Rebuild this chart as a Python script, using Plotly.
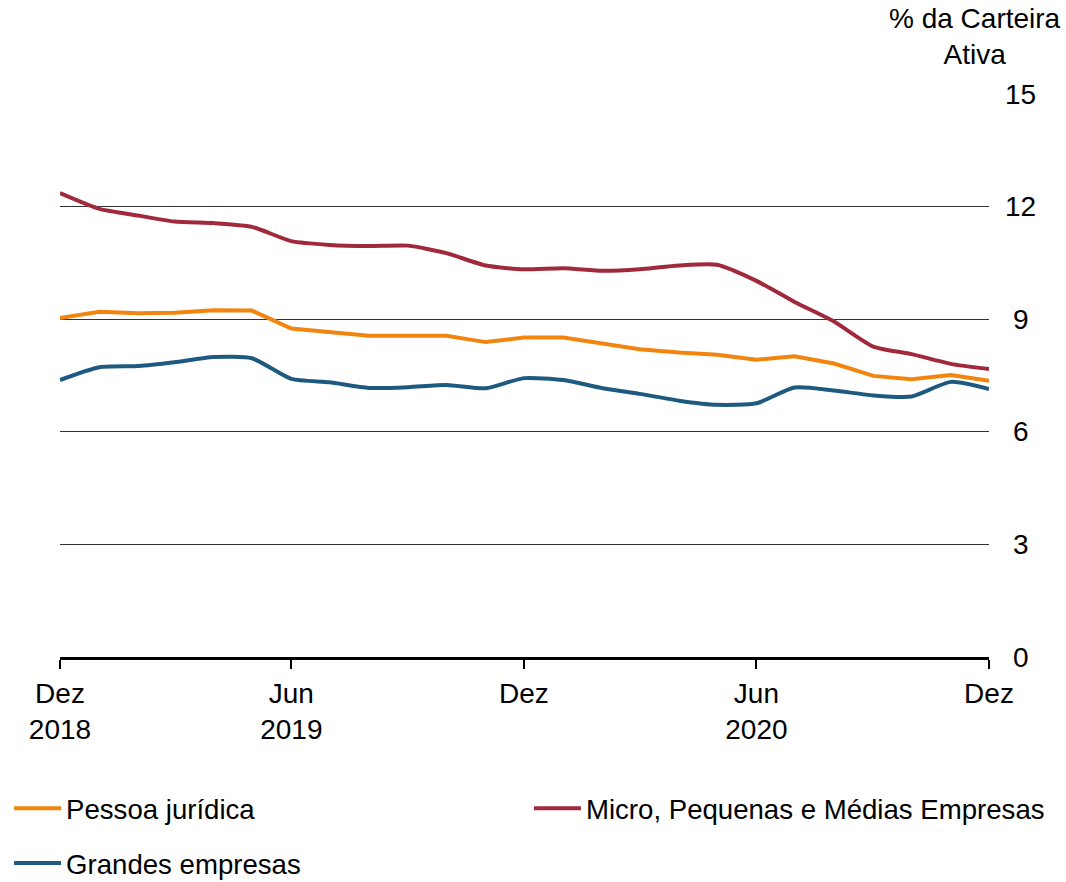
import plotly.graph_objects as go

# Monthly observations, Dez/2018 .. Dez/2020
months = [
    "2018-12-01", "2019-01-01", "2019-02-01", "2019-03-01", "2019-04-01",
    "2019-05-01", "2019-06-01", "2019-07-01", "2019-08-01", "2019-09-01",
    "2019-10-01", "2019-11-01", "2019-12-01", "2020-01-01", "2020-02-01",
    "2020-03-01", "2020-04-01", "2020-05-01", "2020-06-01", "2020-07-01",
    "2020-08-01", "2020-09-01", "2020-10-01", "2020-11-01", "2020-12-01",
]

pessoa_juridica = [
    9.03, 9.20, 9.16, 9.17, 9.24, 9.23, 8.75, 8.65, 8.56, 8.56, 8.56, 8.39,
    8.51, 8.51, 8.34, 8.20, 8.11, 8.05, 7.92, 8.01, 7.82, 7.49, 7.40, 7.51, 7.36,
]
mpme = [
    12.36, 11.94, 11.76, 11.60, 11.56, 11.46, 11.08, 10.98, 10.95, 10.96,
    10.76, 10.43, 10.33, 10.36, 10.29, 10.33, 10.43, 10.45, 10.02, 9.46,
    8.94, 8.27, 8.07, 7.81, 7.67,
]
grandes = [
    7.38, 7.72, 7.75, 7.85, 7.99, 7.96, 7.41, 7.32, 7.17, 7.19, 7.25, 7.16,
    7.43, 7.38, 7.16, 7.01, 6.83, 6.72, 6.76, 7.18, 7.10, 6.97, 6.94, 7.33, 7.14,
]

x_tickvals = ["2018-12-01", "2019-06-01", "2019-12-01", "2020-06-01", "2020-12-01"]
x_ticktext = ["Dez<br>2018", "Jun<br>2019", "Dez", "Jun<br>2020", "Dez"]
y_tickvals = [0, 3, 6, 9, 12, 15]

C_ORANGE = "#F2850F"
C_RED = "#A0293B"
C_BLUE = "#1E5A7F"
FONT = "Liberation Sans, Arial, sans-serif"
FS = 28
FS_LEG = 27.6

fig = go.Figure()
fig.add_trace(go.Scatter(
    x=months, y=pessoa_juridica, name="Pessoa jurídica", mode="lines",
    line=dict(color=C_ORANGE, width=4), legend="legend",
))
fig.add_trace(go.Scatter(
    x=months, y=mpme, name="Micro, Pequenas e Médias Empresas", mode="lines",
    line=dict(color=C_RED, width=4, shape="spline", smoothing=0.6), legend="legend2",
))
fig.add_trace(go.Scatter(
    x=months, y=grandes, name="Grandes empresas", mode="lines",
    line=dict(color=C_BLUE, width=4, shape="spline", smoothing=0.6), legend="legend3",
))

# y tick labels, centred to the right of the plot
for v in y_tickvals:
    fig.add_annotation(
        x=1.0344, xref="paper", y=v, yref="y", text=str(v), showarrow=False,
        xanchor="center", yanchor="middle", font=dict(size=FS, color="black", family=FONT),
    )

fig.add_annotation(
    x=0.985, xref="paper", y=1.165, yref="paper", text="% da Carteira<br>Ativa",
    showarrow=False, xanchor="center", yanchor="top", align="center",
    font=dict(size=FS, color="black", family=FONT),
)

legend_common = dict(
    orientation="h", xref="container", yref="container",
    xanchor="left", yanchor="middle", bgcolor="rgba(0,0,0,0)",
    font=dict(size=FS_LEG, color="black", family=FONT), itemwidth=47,
    itemclick=False, itemdoubleclick=False,
)

fig.update_layout(
    width=1066, height=882,
    margin=dict(l=60, r=77, t=94, b=225),
    paper_bgcolor="white", plot_bgcolor="white",
    font=dict(family=FONT, size=FS, color="black"),
    showlegend=True,
    legend=dict(x=0.0085, y=0.0835, **legend_common),
    legend2=dict(x=0.4962, y=0.0835, **legend_common),
    legend3=dict(x=0.0085, y=0.0215, **legend_common),
    xaxis=dict(
        type="date", range=["2018-12-01", "2020-12-01"],
        tickvals=x_tickvals, ticktext=x_ticktext,
        showgrid=False, zeroline=False,
        showline=True, linecolor="black", linewidth=3,
        ticks="outside", ticklen=9, tickwidth=2, tickcolor="black",
        tickfont=dict(size=FS, color="black", family=FONT),
    ),
    yaxis=dict(
        range=[0, 15], tickvals=y_tickvals, showticklabels=False,
        showgrid=True, gridcolor="#333333", gridwidth=1,
        zeroline=False, showline=False, ticks="",
    ),
)

fig.write_html("out.html")
